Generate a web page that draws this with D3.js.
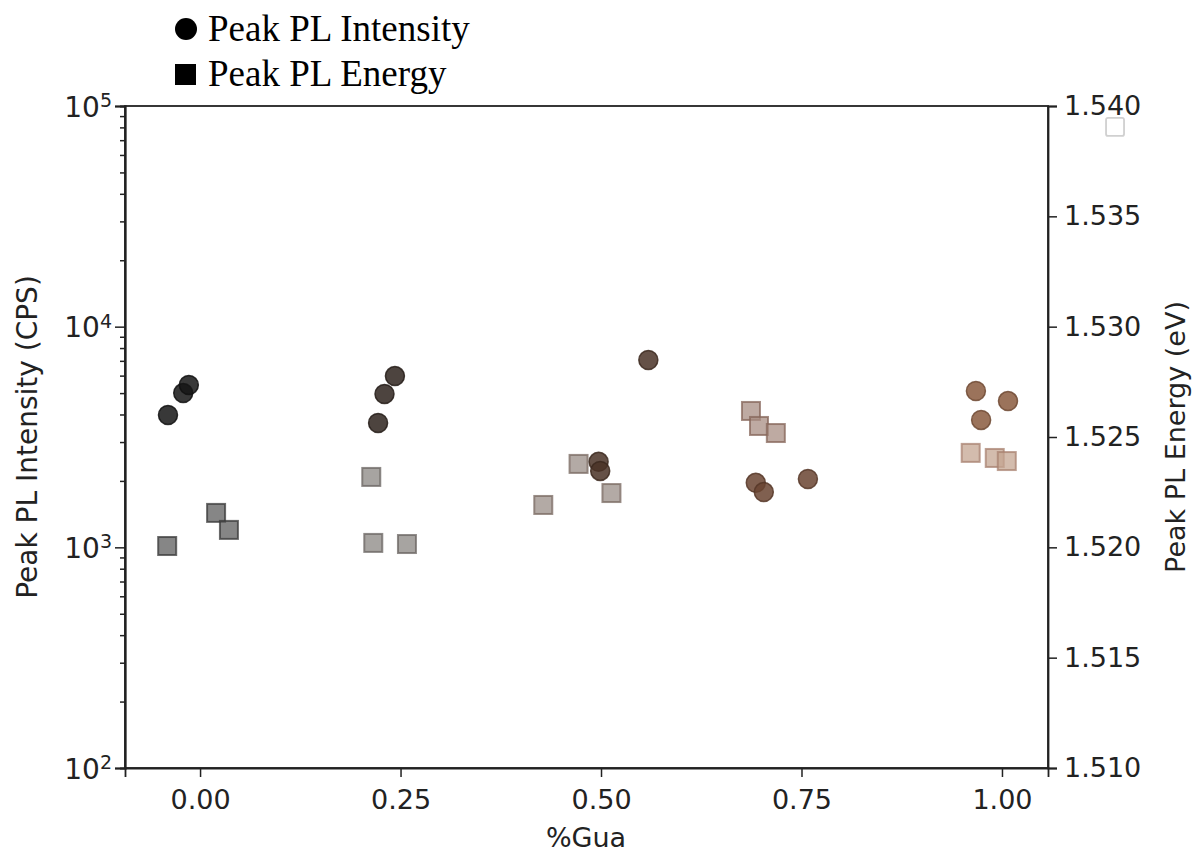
<!DOCTYPE html>
<html><head><meta charset="utf-8">
<script src="https://cdn.jsdelivr.net/npm/d3@7"></script>
<style>body{margin:0;background:#fff}svg{display:block}</style>
</head><body>
<svg id="c" width="1194" height="854"></svg>
<script>
const groups = [0, 0.25, 0.5, 0.75, 1.0];
const circleColors = ["#151515", "#2e231d", "#4a3327", "#6a4431", "#8a5a3e"];
const squareColors = ["#5e5e5e", "#8a8582", "#9a8e87", "#a88e83", "#c4a592"];
const squareEdges = ["#3a3a3a", "#6a6462", "#7a6a62", "#85665a", "#a88270"];

const intensityX = [-0.040, -0.021, -0.014, 0.222, 0.230, 0.243, 0.559, 0.497, 0.499, 0.693, 0.703, 0.758, 0.9675, 0.974, 1.0075];
const intensityY = [3980, 5000, 5440, 3660, 4950, 5970, 7060, 2440, 2220, 1960, 1780, 2040, 5110, 3780, 4600];
const intensityGroup = [0,0,0,1,1,1,2,2,2,3,3,3,4,4,4];

const energyX = [-0.041, 0.020, 0.036, 0.2135, 0.216, 0.258, 0.428, 0.472, 0.513, 0.687, 0.697, 0.718, 0.961, 0.991, 1.006];
const energyY = [1.52006, 1.52156, 1.52079, 1.52319, 1.52020, 1.52015, 1.52192, 1.52378, 1.52246, 1.52618, 1.52550, 1.52518, 1.52428, 1.52405, 1.52391];
const energyGroup = [0,0,0,1,1,1,2,2,2,3,3,3,4,4,4];

const strayX = [1.141];
const strayY = [1.53905];

const xTicks = [0, 0.25, 0.5, 0.75, 1.0];
const leftTicks = [100, 1000, 10000, 100000];
const rightTicks = [1.510, 1.515, 1.520, 1.525, 1.530, 1.535, 1.540];

const svg = d3.select("#c");
const L = 125, R = 1048, T = 106, B = 768;
const x = d3.scaleLinear().domain([-0.0936, 1.0574]).range([L, R]);
const yL = d3.scaleLog().domain([100, 100000]).range([B, T]);
const yR = d3.scaleLinear().domain([1.510, 1.540]).range([B, T]);

const font = "DejaVu Sans";
const fs = 27;

// axes
const xAxis = d3.axisBottom(x).tickValues(xTicks).tickFormat(d3.format(".2f")).tickSize(9).tickPadding(13);
const gx = svg.append("g").attr("transform", `translate(0,${B})`).call(xAxis);
gx.selectAll("text").attr("font-family", font).attr("font-size", fs).attr("fill", "#222");

const minor = [];
for (let e = 2; e < 5; e++) for (let m = 2; m <= 9; m++) minor.push(m * Math.pow(10, e));
svg.append("g").attr("transform", `translate(${L},0)`)
  .call(d3.axisLeft(yL).tickValues(minor).tickSize(5).tickFormat(""));
const gl = svg.append("g").attr("transform", `translate(${L},0)`)
  .call(d3.axisLeft(yL).tickValues(leftTicks).tickSize(10).tickFormat(() => ""));
gl.selectAll(".tick").each(function(d) {
  const t = d3.select(this).append("text").attr("x", -13).attr("dy", "0.36em")
    .attr("text-anchor", "end").attr("font-family", font).attr("font-size", fs + 1).attr("fill", "#222");
  t.append("tspan").text("10");
  t.append("tspan").attr("dy", "-0.5em").attr("font-size", 19).text(Math.round(Math.log10(d)));
});

const gr = svg.append("g").attr("transform", `translate(${R},0)`)
  .call(d3.axisRight(yR).tickValues(rightTicks).tickFormat(d3.format(".3f")).tickSize(9).tickPadding(7));
gr.selectAll("text").attr("font-family", font).attr("font-size", fs).attr("fill", "#222");

// frame
svg.append("rect").attr("x", L).attr("y", T).attr("width", R - L).attr("height", B - T)
  .attr("fill", "none").attr("stroke", "#222").attr("stroke-width", 1.8);
svg.selectAll(".domain").attr("stroke", "#222").attr("stroke-width", 1.8);
svg.selectAll(".tick line").attr("stroke", "#222").attr("stroke-width", 1.5);

// squares (energy)
const s = 18;
svg.append("g").selectAll("rect").data(energyX).join("rect")
  .attr("x", (d) => x(d) - s / 2)
  .attr("y", (d, i) => yR(energyY[i]) - s / 2)
  .attr("width", s).attr("height", s)
  .attr("fill", (d, i) => squareColors[energyGroup[i]])
  .attr("fill-opacity", 0.75)
  .attr("stroke", (d, i) => squareEdges[energyGroup[i]])
  .attr("stroke-opacity", 0.75)
  .attr("stroke-width", 2);

// circles (intensity)
svg.append("g").selectAll("circle").data(intensityX).join("circle")
  .attr("cx", (d) => x(d))
  .attr("cy", (d, i) => yL(intensityY[i]))
  .attr("r", 9.5)
  .attr("fill", (d, i) => circleColors[intensityGroup[i]])
  .attr("fill-opacity", 0.85)
  .attr("stroke", (d, i) => d3.color(circleColors[intensityGroup[i]]).darker(0.6))
  .attr("stroke-opacity", 0.85)
  .attr("stroke-width", 1.5);

// stray hollow square
svg.append("g").selectAll("rect").data(strayX).join("rect")
  .attr("x", (d) => x(d) - s / 2)
  .attr("y", (d, i) => yR(strayY[i]) - s / 2)
  .attr("width", s).attr("height", s).attr("rx", 2)
  .attr("fill", "#fff").attr("stroke", "#d0d0d0").attr("stroke-width", 1.8);

// axis labels
svg.append("text").attr("x", 586).attr("y", 847).attr("text-anchor", "middle")
  .attr("font-family", font).attr("font-size", fs).attr("fill", "#222").text("%Gua");
svg.append("text").attr("transform", `translate(37,${(T + B) / 2}) rotate(-90)`).attr("text-anchor", "middle")
  .attr("font-family", font).attr("font-size", 28).attr("fill", "#222").text("Peak PL Intensity (CPS)");
svg.append("text").attr("transform", `translate(1185,${(T + B) / 2}) rotate(-90)`).attr("text-anchor", "middle")
  .attr("font-family", font).attr("font-size", fs).attr("fill", "#222").text("Peak PL Energy (eV)");

// legend
const lg = svg.append("g");
lg.append("circle").attr("cx", 186).attr("cy", 29).attr("r", 11).attr("fill", "#000");
lg.append("text").attr("x", 208).attr("y", 41).attr("font-family", "Liberation Serif").attr("font-size", 37).attr("fill", "#000").text("Peak PL Intensity");
lg.append("rect").attr("x", 175).attr("y", 64).attr("width", 21).attr("height", 21).attr("fill", "#000");
lg.append("text").attr("x", 208).attr("y", 86).attr("font-family", "Liberation Serif").attr("font-size", 37).attr("fill", "#000").text("Peak PL Energy");
</script>
</body></html>
